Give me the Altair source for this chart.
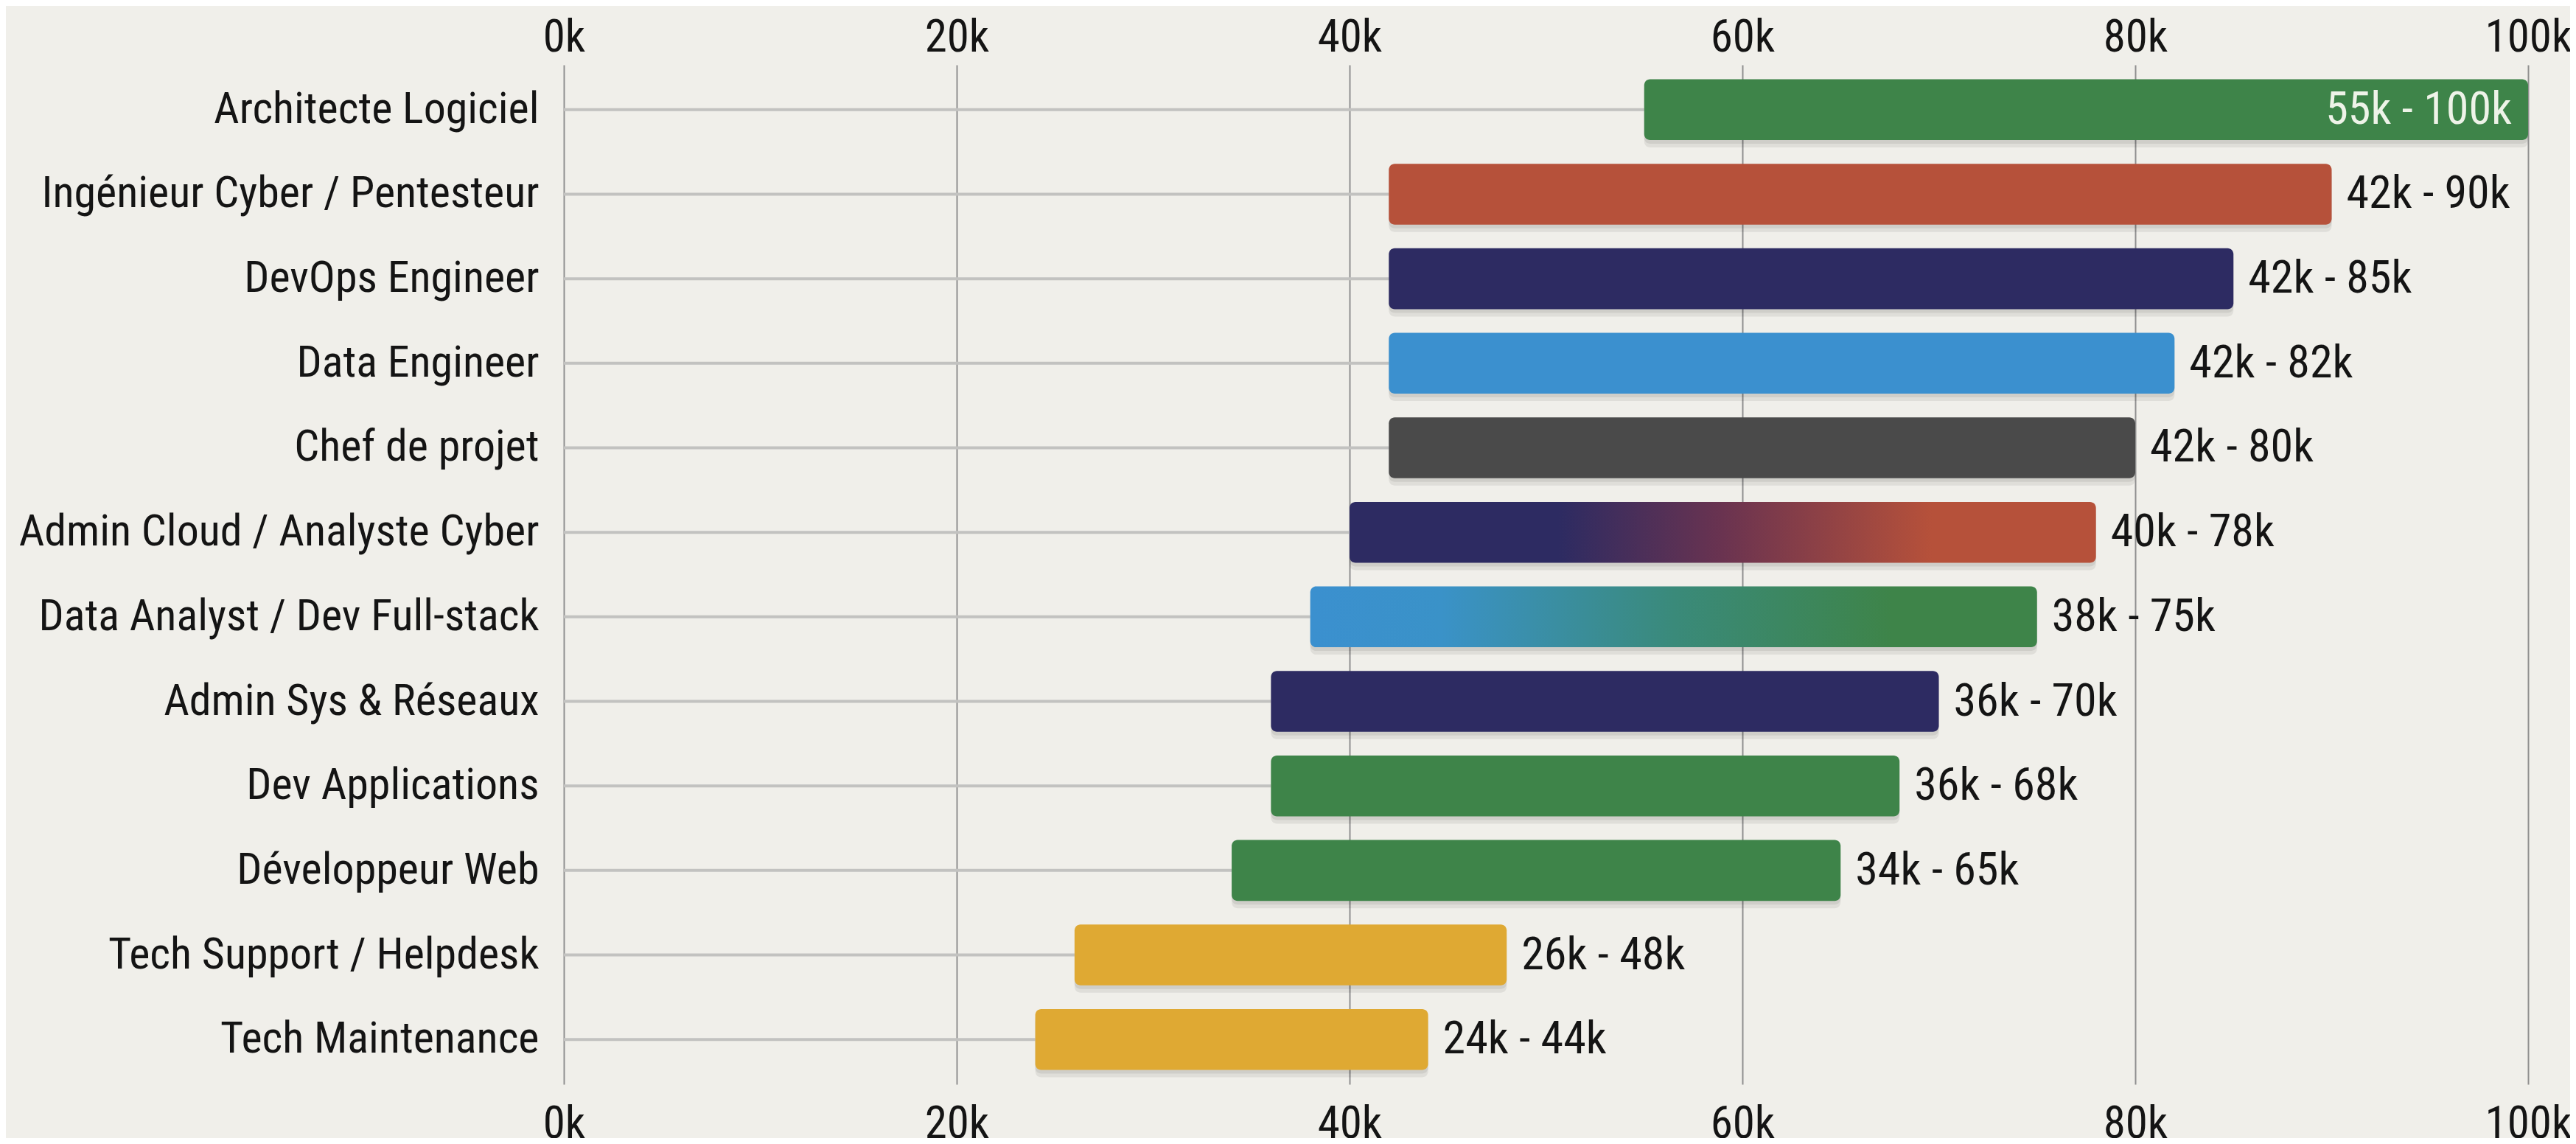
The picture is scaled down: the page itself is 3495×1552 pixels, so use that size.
import altair as alt
import pandas as pd

# ---- data ----
roles = [
    "Architecte Logiciel",
    "Ingénieur Cyber / Pentesteur",
    "DevOps Engineer",
    "Data Engineer",
    "Chef de projet",
    "Admin Cloud / Analyste Cyber",
    "Data Analyst / Dev Full-stack",
    "Admin Sys & Réseaux",
    "Dev Applications",
    "Développeur Web",
    "Tech Support / Helpdesk",
    "Tech Maintenance",
]
low_k = [55, 42, 42, 42, 42, 40, 38, 36, 36, 34, 26, 24]
high_k = [100, 90, 85, 82, 80, 78, 75, 70, 68, 65, 48, 44]
x_ticks = [0, 20, 40, 60, 80, 100]

# ---- styles ----
NAVY = "#2d2b62"
GREEN = "#3e8449"
ORANGE = "#b6513a"
BLUE = "#3b90cf"
GREY = "#4a4a4a"
GOLD = "#dfa933"
solid_colors = {
    "Architecte Logiciel": GREEN,
    "Ingénieur Cyber / Pentesteur": ORANGE,
    "DevOps Engineer": NAVY,
    "Data Engineer": BLUE,
    "Chef de projet": GREY,
    "Admin Sys & Réseaux": NAVY,
    "Dev Applications": GREEN,
    "Développeur Web": GREEN,
    "Tech Support / Helpdesk": GOLD,
    "Tech Maintenance": GOLD,
}
grad_cloud = "Admin Cloud / Analyste Cyber"
grad_data = "Data Analyst / Dev Full-stack"

FONT = "Roboto Condensed, Liberation Sans Narrow, DejaVu Sans Condensed, sans-serif"
TXT = "#141414"
BG = "#f0efea"

df = pd.DataFrame({"role": roles, "low": low_k, "high": high_k})
df["label"] = df["low"].astype(str) + "k - " + df["high"].astype(str) + "k"
df["zero"] = 0

base = alt.Chart(df)

y_enc = alt.Y(
    "role:N",
    sort=roles,
    scale=alt.Scale(paddingInner=0.28, paddingOuter=0.17),
    axis=alt.Axis(
        title=None, domain=False, ticks=False, grid=False,
        labelFont=FONT, labelFontSize=60, labelColor=TXT,
        labelPadding=34, labelLimit=2000,
    ),
)

x_scale = alt.Scale(domain=[0, 100], nice=False)

def x_axis(orient, pad, grid):
    return alt.Axis(
        orient=orient, values=x_ticks, labelExpr="datum.value + 'k'",
        title=None, domain=False, ticks=False, grid=grid,
        gridColor="#8f8f8f", gridWidth=2,
        labelFont=FONT, labelFontSize=61, labelColor=TXT,
        labelPadding=pad, labelFlush=False, labelOverlap=False,
    )

def xq(field):
    return alt.X(field, scale=x_scale, axis=None)

rules = base.mark_rule(color="#c2c2c0", strokeWidth=4).encode(
    y=y_enc,
    x=alt.X("zero:Q", scale=x_scale, axis=x_axis("top", 6, True)),
    x2="low:Q",
)

shadow1 = base.mark_bar(color="#000000", opacity=0.07, yOffset=10, cornerRadius=8).encode(
    y=y_enc,
    x=alt.X("low:Q", scale=x_scale, axis=x_axis("bottom", 24, False)),
    x2="high:Q",
)
shadow2 = base.mark_bar(color="#000000", opacity=0.07, yOffset=5, cornerRadius=8).encode(
    y=y_enc, x=xq("low:Q"), x2="high:Q",
)

solid = base.transform_filter(
    alt.FieldOneOfPredicate(field="role", oneOf=list(solid_colors.keys()))
).mark_bar(cornerRadius=8).encode(
    y=y_enc,
    x=xq("low:Q"),
    x2="high:Q",
    color=alt.Color(
        "role:N",
        scale=alt.Scale(domain=list(solid_colors.keys()), range=list(solid_colors.values())),
        legend=None,
    ),
)

def grad_bar(role, stops):
    return base.transform_filter(alt.datum.role == role).mark_bar(
        cornerRadius=8,
        color=alt.Gradient(
            gradient="linear", x1=0, x2=1, y1=0, y2=0,
            stops=[alt.GradientStop(color=c, offset=o) for o, c in stops],
        ),
    ).encode(y=y_enc, x=xq("low:Q"), x2="high:Q")

cloud = grad_bar(grad_cloud, [(0, NAVY), (0.28, NAVY), (0.5, "#6a3350"), (0.78, ORANGE), (1, ORANGE)])
dataa = grad_bar(grad_data, [(0, BLUE), (0.18, "#3a92c8"), (0.5, "#3a8a7a"), (0.8, GREEN), (1, GREEN)])

labels_out = base.transform_filter(alt.datum.high < 95).mark_text(
    align="left", baseline="middle", dx=20, font=FONT, fontSize=62, color=TXT,
).encode(y=y_enc, x=xq("high:Q"), text="label:N")

labels_in = base.transform_filter(alt.datum.high >= 95).mark_text(
    align="right", baseline="middle", dx=-22, font=FONT, fontSize=62, color="#eef3e8",
).encode(y=y_enc, x=xq("high:Q"), text="label:N")

chart = alt.layer(
    rules, shadow1, shadow2, solid, cloud, dataa, labels_out, labels_in
).resolve_axis(x="independent").properties(
    width=2665,
    height=1383,
    background=BG,
    padding={"left": 757, "top": 80, "right": 57, "bottom": 73},
    autosize=alt.AutoSizeParams(type="none"),
).configure_view(stroke=None)

chart.save("out.html", embed_options={"renderer": "svg", "actions": False})
